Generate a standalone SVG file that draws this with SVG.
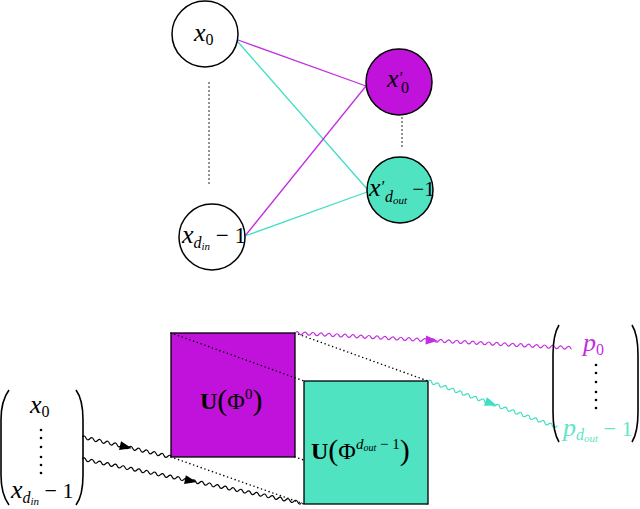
<svg xmlns="http://www.w3.org/2000/svg" xmlns:xlink="http://www.w3.org/1999/xlink" width="640" height="509" viewBox="0 0 640 509">
<style>
.node{stroke:#000;stroke-width:1.5}
.m{font-family:"Liberation Serif","DejaVu Serif",serif;font-style:italic;fill:#000}
.r{font-family:"Liberation Serif","DejaVu Serif",serif;font-style:normal}
.dot{stroke:#000;stroke-width:1.6;stroke-linecap:round;stroke-dasharray:0 4;fill:none}
.wave{fill:none;stroke-width:1.2}
.par{fill:none;stroke:#000;stroke-width:1.6}
</style>
<defs>
<path id="wv" d="M0,0q2,-3 4,0t4,0t4,0t4,0t4,0t4,0t4,0t4,0t4,0t4,0t4,0t4,0t4,0t4,0t4,0t4,0t4,0t4,0t4,0t4,0t4,0t4,0t4,0t4,0t4,0t4,0t4,0t4,0t4,0t4,0t4,0t4,0t4,0t4,0t4,0t4,0t4,0t4,0t4,0t4,0t4,0t4,0t4,0t4,0t4,0t4,0t4,0t4,0t4,0t4,0t4,0t4,0t4,0t4,0t4,0t4,0t4,0t4,0t4,0t4,0t4,0t4,0t4,0t4,0t4,0t4,0t4,0t4,0t4,0t4,0t4,0t4,0t4,0t4,0t4,0t4,0t4,0"/>
<clipPath id="c1" clipPathUnits="userSpaceOnUse"><rect x="0" y="-5" width="277" height="10"/></clipPath>
<clipPath id="c2" clipPathUnits="userSpaceOnUse"><rect x="0" y="-5" width="137" height="10"/></clipPath>
<clipPath id="c3" clipPathUnits="userSpaceOnUse"><rect x="0" y="-5" width="91" height="10"/></clipPath>
<clipPath id="c4" clipPathUnits="userSpaceOnUse"><rect x="0" y="-5" width="224" height="10"/></clipPath>
</defs>

<g id="connectors">
<line x1="238" y1="40" x2="366" y2="86" stroke="#C22EE0" stroke-width="1.3"/>
<line x1="238" y1="42" x2="368" y2="190" stroke="#3EDFC4" stroke-width="1.3"/>
<line x1="245" y1="236" x2="366" y2="86" stroke="#C22EE0" stroke-width="1.3"/>
<line x1="245" y1="236" x2="367" y2="192" stroke="#3EDFC4" stroke-width="1.3"/>
<line class="dot" x1="209" y1="83" x2="209" y2="187"/>
<line class="dot" x1="402" y1="118" x2="402" y2="150"/>
</g>

<g id="node-x0">
<circle class="node" cx="205" cy="34" r="33" fill="#fff"/>
<text class="m" x="194" y="41" font-size="26">x<tspan class="r" font-size="16" dy="4">0</tspan></text>
</g>
<g id="node-xdin">
<circle class="node" cx="212" cy="237" r="33" fill="#fff"/>
<text class="m" x="182" y="243" font-size="26">x<tspan font-size="16" dy="5">d</tspan><tspan font-size="11" dy="2">in</tspan><tspan class="r" dy="-7" font-size="23"> − 1</tspan></text>
</g>
<g id="node-xp0">
<circle class="node" cx="399" cy="82" r="33" fill="#C012DA"/>
<text class="m" x="387" y="87" font-size="26">x<tspan font-size="17" dy="-4">′</tspan><tspan class="r" x="401" dy="10" font-size="16">0</tspan></text>
</g>
<g id="node-xpdout">
<circle class="node" cx="400" cy="190" r="33" fill="#50E3C2"/>
<text class="m" x="369" y="196" font-size="26">x<tspan font-size="17" dy="-4">′</tspan><tspan x="385" dy="10" font-size="16">d</tspan><tspan font-size="11" dy="2">out</tspan><tspan class="r" font-size="21" dy="-8"> −1</tspan></text>
</g>

<g id="node-U0">
<rect x="171" y="333" width="124" height="124" fill="#C012DA" stroke="#000" stroke-width="1.3"/>
<text class="r" x="200" y="409" font-size="24" font-family="Liberation Serif,serif"><tspan font-weight="bold">U</tspan><tspan font-size="30" dy="1">(</tspan><tspan dy="-1">Φ</tspan><tspan font-size="15" dy="-10">0</tspan><tspan font-size="30" dy="11">)</tspan></text>
</g>

<g id="dotted-projection">
<line class="dot" x1="171" y1="333" x2="304" y2="381"/>
<line class="dot" x1="295" y1="333" x2="428" y2="381"/>
<line class="dot" x1="171" y1="457" x2="304" y2="504"/>
<line class="dot" x1="295" y1="457" x2="428" y2="504"/>
</g>

<g id="node-Udout">
<rect x="304" y="381" width="124" height="123" fill="#50E3C2" stroke="#000" stroke-width="1.3"/>
<text class="r" x="311" y="459" font-size="24" font-family="Liberation Serif,serif"><tspan font-weight="bold">U</tspan><tspan font-size="30" dy="1">(</tspan><tspan dy="-1">Φ</tspan><tspan class="m" font-size="15" dy="-10">d</tspan><tspan class="m" font-size="10" dy="2">out</tspan><tspan font-size="15" dy="-2"> − 1</tspan><tspan font-size="30" dy="11">)</tspan></text>
</g>

<g id="waves">
<g transform="translate(295,333) rotate(3.1)" stroke="#C22EE0" fill="#C22EE0">
<use xlink:href="#wv" class="wave" clip-path="url(#c1)"/>
<polygon points="131,-4.5 143,0 131,4.5" stroke="none"/>
</g>
<g transform="translate(428,381) rotate(19.63)" stroke="#3EDFC4" fill="#3EDFC4">
<use xlink:href="#wv" class="wave" clip-path="url(#c2)"/>
<polygon points="61,-4.5 73,0 61,4.5" stroke="none"/>
</g>
<g transform="translate(82,437) rotate(12.66)" stroke="#000" fill="#000">
<use xlink:href="#wv" class="wave" clip-path="url(#c3)"/>
<polygon points="39,-4.5 51,0 39,4.5" stroke="none"/>
</g>
<g transform="translate(82,459) rotate(11.31)" stroke="#000" fill="#000">
<use xlink:href="#wv" class="wave" clip-path="url(#c4)"/>
<polygon points="105,-4.5 117,0 105,4.5" stroke="none"/>
</g>
</g>

<g id="input-vector">
<path class="par" d="M9,390 C3,398 1,408 1,420 L1,475 C1,487 3,497 9,505"/>
<path class="par" d="M76,390 C82,398 83,408 83,420 L83,475 C83,487 82,497 76,505"/>
<text class="m" x="30" y="413" font-size="26">x<tspan class="r" font-size="16" dy="4">0</tspan></text>
<g fill="#000"><circle cx="41" cy="430" r="1.3"/><circle cx="41" cy="438" r="1.3"/><circle cx="41" cy="447" r="1.3"/><circle cx="41" cy="457" r="1.3"/><circle cx="41" cy="465" r="1.3"/><circle cx="41" cy="473" r="1.3"/></g>
<text class="m" x="11" y="498" font-size="26">x<tspan font-size="16" dy="5">d</tspan><tspan font-size="11" dy="2">in</tspan><tspan class="r" dy="-7" font-size="22"> − 1</tspan></text>
</g>

<g id="output-vector">
<path class="par" d="M559,325 C554,333 553,343 553,355 L553,412 C553,424 554,434 559,442"/>
<path class="par" d="M632,325 C637,333 638,343 638,355 L638,412 C638,424 637,434 632,442"/>
<text class="m" x="583" y="351" font-size="26" style="fill:#C22EE0">p<tspan class="r" font-size="16" dy="4">0</tspan></text>
<g fill="#000"><circle cx="596" cy="365" r="1.3"/><circle cx="596" cy="373" r="1.3"/><circle cx="596" cy="382" r="1.3"/><circle cx="596" cy="392" r="1.3"/><circle cx="596" cy="400" r="1.3"/><circle cx="596" cy="408" r="1.3"/></g>
<text class="m" x="563" y="436" font-size="26" style="fill:#5FE6C8">p<tspan font-size="16" dy="4">d</tspan><tspan font-size="11" dy="2">out</tspan><tspan class="r" dy="-6" font-size="22"> − 1</tspan></text>
</g>
</svg>
